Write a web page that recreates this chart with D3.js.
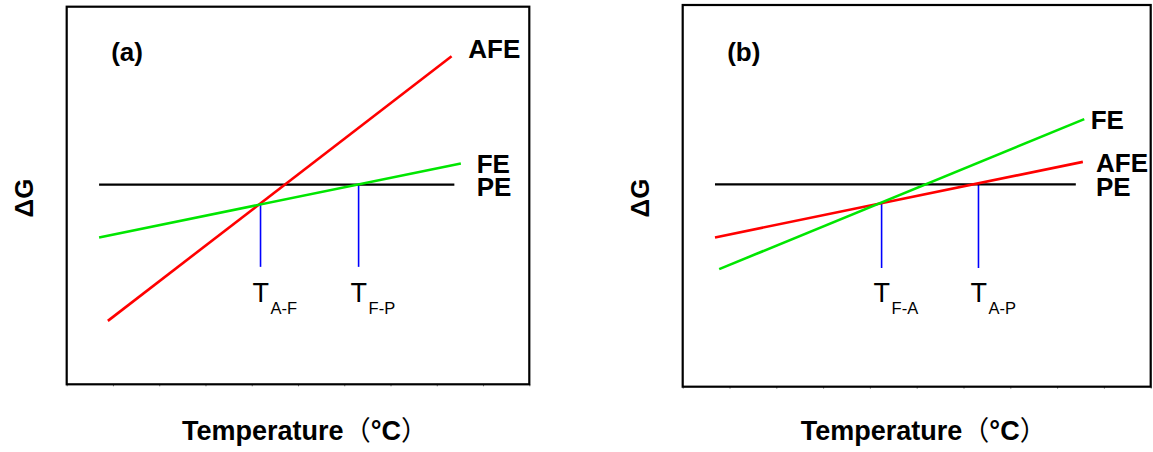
<!DOCTYPE html>
<html>
<head>
<meta charset="utf-8">
<script src="https://cdn.jsdelivr.net/npm/d3@7"></script>
<style>
  body { margin: 0; background: #fff; }
  svg text { font-family: "Liberation Sans", Arial, sans-serif; fill: #000; }
</style>
</head>
<body>
<div id="chart"></div>
<script>
// schematic data, arbitrary units (temperature 0-10, dG 0-10)
const aPE  = [[0.70, 5.29], [8.38, 5.29]];
const aFE  = [[0.70, 3.89], [8.52, 5.85]];
const aAFE = [[0.89, 1.68], [8.32, 8.69]];
const aTransX = [4.19, 6.31];
const aTransTop = [4.78, 5.29];
const aTransLabels = ['A-F', 'F-P'];

const bPE  = [[0.69, 5.30], [8.40, 5.30]];
const bFE  = [[0.78, 3.08], [8.58, 7.01]];
const bAFE = [[0.69, 3.91], [8.55, 5.89]];
const bTransX = [4.25, 6.32];
const bTransTop = [4.80, 5.30];
const bTransLabels = ['F-A', 'A-P'];

const transBottom = 3.11;
const xDomain = [0, 10];
const yDomain = [0, 10];

const colors = { PE: '#000000', FE: '#00e600', AFE: '#ff0000', trans: '#0000ff' };

const svg = d3.select('#chart').append('svg')
  .attr('width', 1153)
  .attr('height', 452);

const panels = [
  {
    tag: '(a)', left: 66.7, top: 6.7, right: 529.3, bottom: 384.3,
    lines: { PE: aPE, AFE: aAFE, FE: aFE },
    transX: aTransX, transTop: aTransTop, transLabels: aTransLabels,
    labels: [
      { text: 'AFE', x: 468.3, y: 58.3 },
      { text: 'FE',  x: 476.7, y: 172.7 },
      { text: 'PE',  x: 476.7, y: 195.7 }
    ]
  },
  {
    tag: '(b)', left: 682.7, top: 5, right: 1150.7, bottom: 386.7,
    lines: { PE: bPE, AFE: bAFE, FE: bFE },
    transX: bTransX, transTop: bTransTop, transLabels: bTransLabels,
    labels: [
      { text: 'FE',  x: 1090.7, y: 129 },
      { text: 'AFE', x: 1096,   y: 172.3 },
      { text: 'PE',  x: 1096,   y: 196 }
    ]
  }
];

panels.forEach(p => {
  const x = d3.scaleLinear().domain(xDomain).range([p.left, p.right]);
  const y = d3.scaleLinear().domain(yDomain).range([p.bottom, p.top]);
  const g = svg.append('g');

  // small ticks on bottom axis
  g.append('g')
    .attr('transform', `translate(0,${p.bottom})`)
    .call(d3.axisBottom(x).ticks(10).tickSize(2).tickFormat(''))
    .call(a => a.select('.domain').remove())
    .call(a => a.selectAll('line').attr('stroke', '#777'));

  // frame
  g.append('rect')
    .attr('x', p.left).attr('y', p.top)
    .attr('width', p.right - p.left)
    .attr('height', p.bottom - p.top)
    .attr('fill', 'none')
    .attr('stroke', '#000')
    .attr('stroke-width', 2.2);

  const line = d3.line().x(d => x(d[0])).y(d => y(d[1]));

  // transition markers
  g.selectAll('.trans')
    .data(p.transX)
    .join('line')
    .attr('class', 'trans')
    .attr('x1', d => x(d)).attr('x2', d => x(d))
    .attr('y1', (d, i) => y(p.transTop[i]))
    .attr('y2', y(transBottom))
    .attr('stroke', colors.trans)
    .attr('stroke-width', 1.6);

  ['PE', 'AFE', 'FE'].forEach(k => {
    g.append('path')
      .datum(p.lines[k])
      .attr('d', line)
      .attr('fill', 'none')
      .attr('stroke', colors[k])
      .attr('stroke-width', k === 'PE' ? 2.2 : 2.6);
  });

  // T labels
  const tl = g.selectAll('.tlabel')
    .data(p.transX)
    .join('text')
    .attr('class', 'tlabel')
    .attr('x', d => x(d) - 8)
    .attr('y', 301.7)
    .style('font-size', '27px');
  tl.append('tspan').text('T');
  tl.append('tspan')
    .attr('dx', 1.5)
    .attr('dy', 11.8)
    .style('font-size', '16.5px')
    .text((d, i) => p.transLabels[i]);

  // phase labels
  g.selectAll('.plabel')
    .data(p.labels)
    .join('text')
    .attr('class', 'plabel')
    .attr('x', d => d.x)
    .attr('y', d => d.y)
    .style('font-size', '26px')
    .style('font-weight', 'bold')
    .text(d => d.text);

  // panel tag
  g.append('text')
    .attr('x', p.left + 44.5)
    .attr('y', 61)
    .style('font-size', '26px')
    .style('font-weight', 'bold')
    .text(p.tag);

  // y axis title
  g.append('text')
    .attr('transform', `translate(${p.left - 33.5},198) rotate(-90)`)
    .attr('text-anchor', 'middle')
    .style('font-size', '26px')
    .style('font-weight', 'bold')
    .text('ΔG');

  // x axis title
  const xt = g.append('text')
    .attr('x', (p.left + p.right) / 2 + 7)
    .attr('y', 440)
    .attr('text-anchor', 'middle')
    .style('font-size', '27px')
    .style('font-weight', 'bold');
  xt.append('tspan').text('Temperature');
  xt.append('tspan')
    .style('font-family', '"Noto Sans CJK SC", "Liberation Sans", sans-serif')
    .style('font-weight', 'normal')
    .text('（');
  xt.append('tspan').text('°C');
  xt.append('tspan')
    .style('font-family', '"Noto Sans CJK SC", "Liberation Sans", sans-serif')
    .style('font-weight', 'normal')
    .text('）');
});
</script>
</body>
</html>
